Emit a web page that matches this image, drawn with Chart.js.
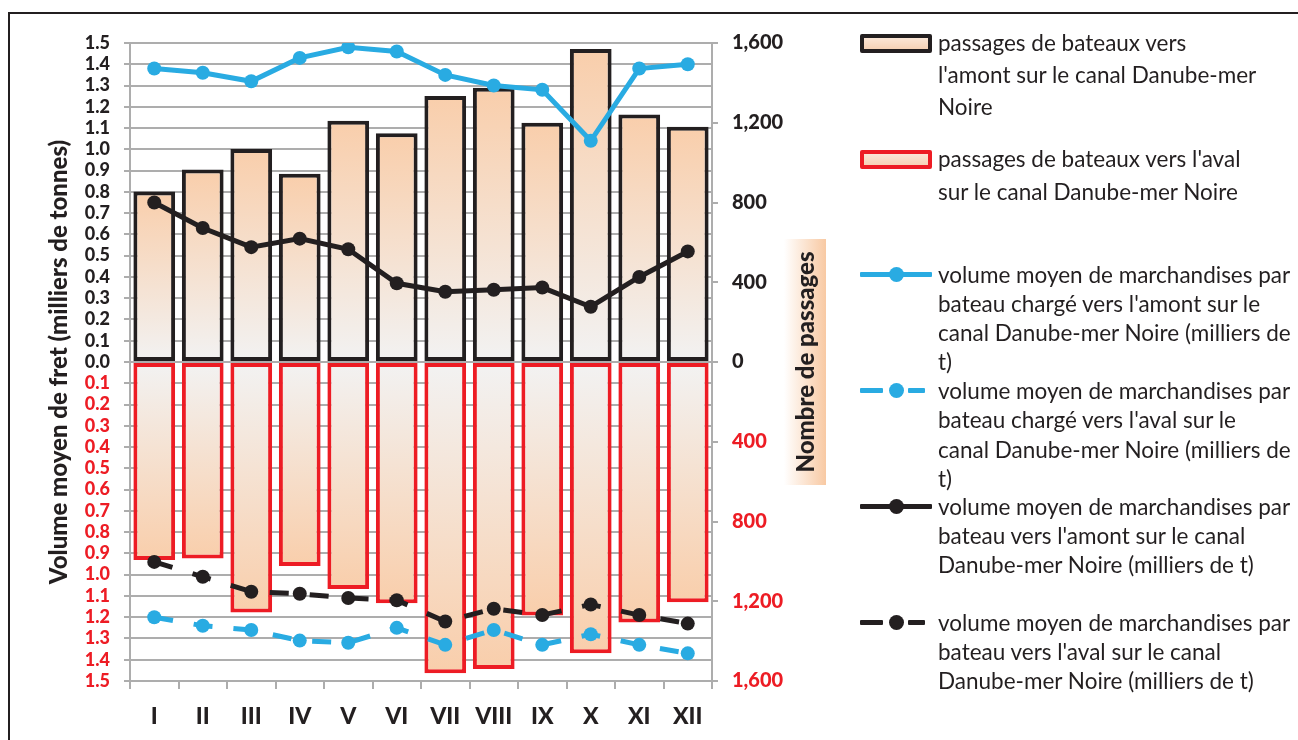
<!DOCTYPE html>
<html lang="fr">
<head>
<meta charset="utf-8">
<title>Passages canal Danube-mer Noire</title>
<script src="https://cdn.jsdelivr.net/npm/chart.js@4.4.1/dist/chart.umd.min.js"></script>
<style>
  body { margin: 0; background: #fff; }
  #wrap { position: relative; width: 1298px; height: 740px; overflow: hidden; font-family: Lato, sans-serif; color: #231F20; }
  #frame { position: absolute; left: 8px; top: 12px; width: 1400px; height: 800px; border-left: 2px solid #231F20; border-top: 2px solid #231F20; }
  #chart { position: absolute; left: 0; top: 0; }
  .txt { position: absolute; left: 938px; font-size: 22.5px; white-space: pre; }
  .sym { position: absolute; left: 860px; width: 72px; }
  .barsym { height: 19px; box-sizing: border-box; border: 4px solid; border-radius: 2px; background: linear-gradient(to bottom, #FBE6D6, #F6D2B6); }
  .seg { position: absolute; height: 5px; top: -2.5px; border-radius: 1px; }
  .dot { position: absolute; width: 15px; height: 15px; border-radius: 50%; left: 29px; top: -7.5px; }
</style>
</head>
<body>
<div id="wrap">
  <div id="frame"></div>
  <canvas id="chart" width="1298" height="740"></canvas>
  <div id="legend"></div>
</div>
<script>
// mois
const months = ['I', 'II', 'III', 'IV', 'V', 'VI', 'VII', 'VIII', 'IX', 'X', 'XI', 'XII'];

// nombre de passages (axe de droite)
const passagesAmont = [855, 965, 1068, 944, 1210, 1147, 1334, 1376, 1200, 1570, 1242, 1180];
const passagesAval = [993, 985, 1256, 1023, 1138, 1210, 1561, 1540, 1272, 1461, 1306, 1205];

// volume moyen (milliers de t, axe de gauche)
const volChargeAmont = [1.38, 1.36, 1.32, 1.43, 1.48, 1.46, 1.35, 1.30, 1.28, 1.04, 1.38, 1.40];
const volChargeAval = [1.20, 1.24, 1.26, 1.31, 1.32, 1.25, 1.33, 1.26, 1.33, 1.28, 1.33, 1.37];
const volAmont = [0.75, 0.63, 0.54, 0.58, 0.53, 0.37, 0.33, 0.34, 0.35, 0.26, 0.40, 0.52];
const volAval = [0.94, 1.01, 1.08, 1.09, 1.11, 1.12, 1.22, 1.16, 1.19, 1.14, 1.19, 1.23];

// textes
const labelsLegende = [
  "passages de bateaux vers\nl'amont sur le canal Danube-mer\nNoire",
  "passages de bateaux vers l'aval\nsur le canal Danube-mer Noire",
  "volume moyen de marchandises par\nbateau chargé vers l'amont sur le\ncanal Danube-mer Noire (milliers de\nt)",
  "volume moyen de marchandises par\nbateau chargé vers l'aval sur le\ncanal Danube-mer Noire (milliers de\nt)",
  "volume moyen de marchandises par\nbateau vers l'amont sur le canal\nDanube-mer Noire (milliers de t)",
  "volume moyen de marchandises par\nbateau vers l'aval sur le canal\nDanube-mer Noire (milliers de t)"
];
const titreGauche = 'Volume moyen de fret (milliers de tonnes)';
const titreDroite = 'Nombre de passages';

const BLEU = '#29ABE2';
const NOIR = '#231F20';
const ROUGE = '#ED1C24';
const GRIS = '#ADADAD';
const PECHE = '#F9CEAB';
const GRIS_CLAIR = '#F2F2F2';

Chart.defaults.font.family = 'Lato, sans-serif';
Chart.defaults.color = NOIR;

// dégradé de chaque barre : pêche au bout, gris clair vers le zéro
function barFill(c) {
  const chart = c.chart;
  if (!chart.chartArea || c.type !== 'data') return PECHE;
  const sc = chart.scales.y2;
  const y0 = sc.getPixelForValue(0);
  const y1 = sc.getPixelForValue(c.raw);
  const g = chart.ctx.createLinearGradient(0, y1, 0, y0);
  g.addColorStop(0, PECHE);
  g.addColorStop(1, GRIS_CLAIR);
  return g;
}

// titre de l'axe de droite avec son fond dégradé
const titreDroitePlugin = {
  id: 'titreDroite',
  afterDraw(chart) {
    const ctx = chart.ctx;
    const sc = chart.scales.y2;
    const midY = (chart.chartArea.top + chart.chartArea.bottom) / 2;
    const x0 = sc.right - 44;
    ctx.save();
    const g = ctx.createLinearGradient(x0, 0, x0 + 42, 0);
    g.addColorStop(0, '#FFFFFF');
    g.addColorStop(1, '#F8C9A3');
    ctx.fillStyle = g;
    ctx.fillRect(x0, midY - 123, 42, 246);
    ctx.translate(sc.right - 22, midY);
    ctx.rotate(-Math.PI / 2);
    ctx.fillStyle = NOIR;
    ctx.font = '900 24px Lato, sans-serif';
    ctx.textAlign = 'center';
    ctx.textBaseline = 'middle';
    ctx.fillText(titreDroite, 0, 0);
    ctx.restore();
  }
};

const lineBase = {
  type: 'line',
  yAxisID: 'y',
  borderWidth: 5,
  pointRadius: 7,
  pointHoverRadius: 7,
  pointBorderWidth: 0,
  tension: 0,
  order: 0
};

const chart = new Chart(document.getElementById('chart'), {
  type: 'bar',
  data: {
    labels: months,
    datasets: [
      Object.assign({}, lineBase, {
        label: labelsLegende[2],
        data: volChargeAmont,
        borderColor: BLEU,
        backgroundColor: BLEU
      }),
      Object.assign({}, lineBase, {
        label: labelsLegende[3],
        data: volChargeAval.map(v => -v),
        borderColor: BLEU,
        backgroundColor: BLEU,
        borderDash: [19, 21]
      }),
      Object.assign({}, lineBase, {
        label: labelsLegende[4],
        data: volAmont,
        borderColor: NOIR,
        backgroundColor: NOIR
      }),
      Object.assign({}, lineBase, {
        label: labelsLegende[5],
        data: volAval.map(v => -v),
        borderColor: NOIR,
        backgroundColor: NOIR,
        borderDash: [19, 21]
      }),
      {
        label: labelsLegende[1],
        data: passagesAval.map(v => -v),
        yAxisID: 'y2',
        borderColor: ROUGE,
        borderWidth: 4,
        borderSkipped: false,
        backgroundColor: barFill,
        grouped: false,
        order: 1
      },
      {
        label: labelsLegende[0],
        data: passagesAmont,
        yAxisID: 'y2',
        borderColor: NOIR,
        borderWidth: 4,
        borderSkipped: false,
        backgroundColor: barFill,
        grouped: false,
        order: 2
      }
    ]
  },
  options: {
    responsive: false,
    devicePixelRatio: 1,
    animation: false,
    layout: { padding: { left: 0, top: 43, right: 470, bottom: 0 } },
    datasets: { bar: { categoryPercentage: 1, barPercentage: 0.86 } },
    plugins: {
      legend: { display: false },
      tooltip: { enabled: false }
    },
    scales: {
      x: {
        afterFit: s => { s.height = 59; },
        border: { color: GRIS, width: 2 },
        grid: { offset: true, drawOnChartArea: false, color: GRIS, lineWidth: 2, tickLength: 8 },
        ticks: { padding: 14, font: { size: 23, weight: '900' }, color: NOIR }
      },
      y: {
        position: 'left',
        min: -1.5,
        max: 1.5,
        afterFit: s => { s.width = 130; },
        border: { color: GRIS, width: 2 },
        grid: { color: GRIS, lineWidth: 2, tickLength: 6 },
        ticks: {
          stepSize: 0.1,
          maxTicksLimit: 40,
          autoSkip: false,
          padding: 14,
          font: { size: 18, weight: '900', lineHeight: 1 },
          color: c => (c.tick.value < -1e-9 ? ROUGE : NOIR),
          callback: v => Math.abs(v).toFixed(1)
        },
        title: {
          display: true,
          text: titreGauche,
          color: NOIR,
          font: { size: 24, weight: '900' },
          padding: { top: 45, bottom: 0 }
        }
      },
      y2: {
        position: 'right',
        min: -1600,
        max: 1600,
        afterFit: s => { s.width = 116; },
        border: { color: GRIS, width: 2 },
        grid: { drawOnChartArea: false, color: GRIS, lineWidth: 2, tickLength: 6 },
        ticks: {
          stepSize: 400,
          padding: 14,
          font: { size: 20, weight: '900' },
          color: c => (c.tick.value < 0 ? ROUGE : NOIR),
          callback: v => Math.abs(v).toLocaleString('en-US')
        }
      }
    }
  },
  plugins: [titreDroitePlugin]
});

// légende HTML à droite
const legendLayout = [
  { kind: 'bar', color: NOIR, textTop: 27, lh: 32, symTop: 34 },
  { kind: 'bar', color: ROUGE, textTop: 142, lh: 33, symTop: 150 },
  { kind: 'line', color: BLEU, textTop: 260, lh: 29, symY: 274 },
  { kind: 'dash', color: BLEU, textTop: 376, lh: 29.3, symY: 390 },
  { kind: 'line', color: NOIR, textTop: 492, lh: 29, symY: 506 },
  { kind: 'dash', color: NOIR, textTop: 608, lh: 29, symY: 622 }
];
const legend = document.getElementById('legend');
legendLayout.forEach((it, i) => {
  const txt = document.createElement('div');
  txt.className = 'txt';
  txt.style.top = it.textTop + 'px';
  txt.style.lineHeight = it.lh + 'px';
  txt.textContent = labelsLegende[i];
  legend.appendChild(txt);

  const sym = document.createElement('div');
  sym.className = 'sym';
  if (it.kind === 'bar') {
    sym.classList.add('barsym');
    sym.style.top = it.symTop + 'px';
    sym.style.borderColor = it.color;
  } else {
    sym.style.top = it.symY + 'px';
    const segs = it.kind === 'line' ? [[0, 72]] : [[0, 23], [48, 17]];
    segs.forEach(([l, w]) => {
      const s = document.createElement('div');
      s.className = 'seg';
      s.style.left = l + 'px';
      s.style.width = w + 'px';
      s.style.background = it.color;
      sym.appendChild(s);
    });
    const d = document.createElement('div');
    d.className = 'dot';
    d.style.background = it.color;
    sym.appendChild(d);
  }
  legend.appendChild(sym);
});
</script>
</body>
</html>
